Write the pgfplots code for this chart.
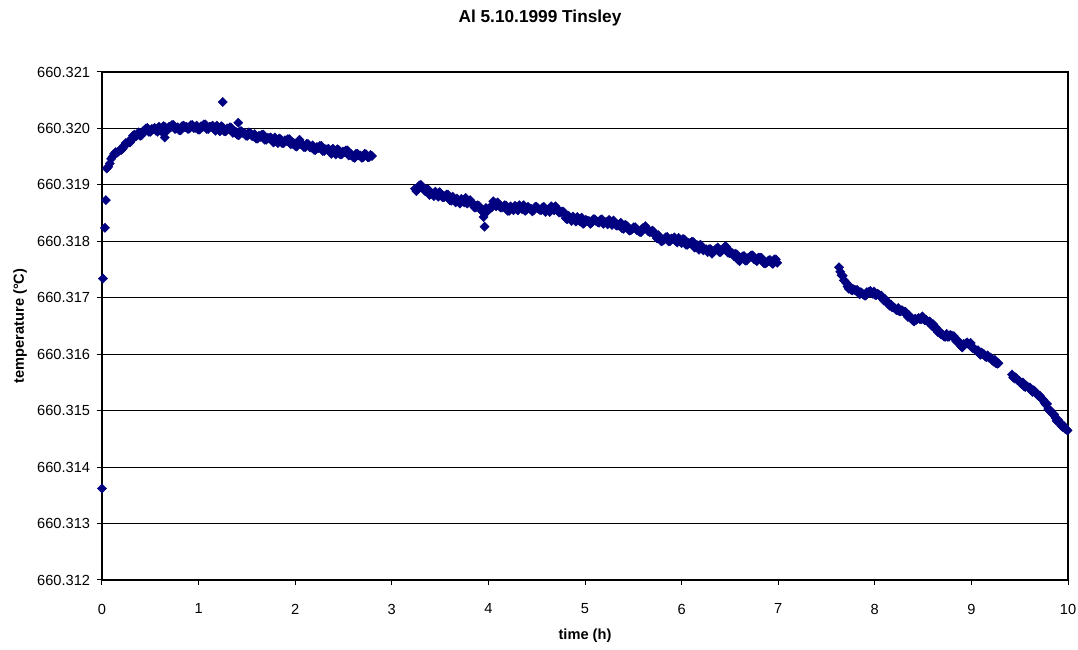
\documentclass[border=0pt]{standalone}
\usepackage{fontspec}
\setmainfont{Liberation Sans}
\usepackage{pgfplots}
\pgfplotsset{compat=1.18}
\usepackage{fp}
\definecolor{navy}{RGB}{0,0,128}
\begin{document}
\begin{tikzpicture}
\begin{axis}[
  scale only axis,
  width=724.5bp, height=381bp,
  xmin=0, xmax=10,
  ymin=660.312, ymax=660.321,
  y coord trafo/.code={\FPsub\tmpa{#1}{660.312}\FPmul\tmpa{\tmpa}{1000}\edef\pgfmathresult{\tmpa}},
  xtick={0,1,2,3,4,5,6,7,8,9,10},
  ytick={660.312,660.313,660.314,660.315,660.316,660.317,660.318,660.319,660.320,660.321},
  yticklabels={660.312,660.313,660.314,660.315,660.316,660.317,660.318,660.319,660.320,660.321},
  /pgf/number format/assume math mode=true,
  tick align=outside,
  major tick length=3.75bp,
  xtick pos=bottom, ytick pos=left,
  tick style={black, line width=0.75bp},
  axis line style={black, line width=0.9bp},
  ymajorgrids,
  major grid style={black, line width=0.6bp},
  ticklabel style={font=\fontsize{11}{13}\selectfont},
  yticklabel style={anchor=east, inner sep=0pt, xshift=-5bp},
  xticklabel style={anchor=north, inner sep=0pt, yshift=-14bp},
  title={Al 5.10.1999 Tinsley},
  title style={font=\fontsize{13}{15}\selectfont\bfseries, at={(axis description cs:0.4534,1.090)}, anchor=center},
  xlabel={time (h)},
  xlabel style={font=\fontsize{11}{13}\selectfont\bfseries, at={(axis description cs:0.5,-0.110)}, anchor=center},
  ylabel={temperature (°C)},
  ylabel style={font=\fontsize{11}{13}\selectfont\bfseries, at={(axis description cs:-0.0849,0.5)}, anchor=center, rotate=0},
]
\addplot[only marks, mark=square*, mark size=2.45bp, mark options={rotate=45, fill=navy, draw=navy, line width=0.3bp}] table {
x y
0.00 660.31362
0.01 660.31734
0.03 660.31824
0.04 660.31873
0.05 660.31929
0.08 660.31938
0.11 660.31950
0.14 660.31958
0.17 660.31959
0.20 660.31962
0.23 660.31970
0.26 660.31973
0.29 660.31975
0.32 660.31987
0.35 660.31986
0.38 660.31993
0.41 660.31988
0.44 660.31994
0.47 660.32001
0.50 660.31994
0.53 660.31999
0.56 660.31996
0.59 660.32003
0.62 660.31994
0.65 660.32003
0.65 660.31984
0.68 660.31997
0.71 660.32002
0.74 660.32006
0.77 660.32000
0.80 660.31997
0.83 660.32004
0.86 660.32002
0.89 660.31999
0.92 660.32006
0.95 660.32001
0.98 660.32005
1.01 660.31998
1.04 660.32002
1.07 660.32007
1.10 660.31999
1.13 660.32003
1.16 660.31999
1.19 660.32005
1.22 660.31995
1.25 660.32002
1.25 660.32047
1.28 660.31995
1.31 660.31999
1.34 660.32001
1.37 660.31993
1.40 660.31989
1.41 660.32010
1.43 660.31995
1.46 660.31992
1.49 660.31987
1.52 660.31993
1.55 660.31987
1.58 660.31990
1.61 660.31982
1.64 660.31985
1.67 660.31989
1.70 660.31980
1.73 660.31983
1.76 660.31979
1.79 660.31984
1.82 660.31974
1.85 660.31981
1.88 660.31974
1.91 660.31978
1.94 660.31981
1.97 660.31973
2.00 660.31969
2.03 660.31975
2.06 660.31972
2.09 660.31967
2.12 660.31973
2.15 660.31967
2.18 660.31970
2.21 660.31962
2.24 660.31965
2.27 660.31969
2.30 660.31960
2.33 660.31963
2.36 660.31959
2.39 660.31964
2.42 660.31954
2.45 660.31962
2.48 660.31954
2.51 660.31958
2.54 660.31961
2.57 660.31953
2.60 660.31949
2.63 660.31955
2.66 660.31952
2.69 660.31948
2.72 660.31955
2.75 660.31949
2.78 660.31953
0.065 660.31932
0.095 660.31946
0.125 660.31955
0.155 660.31957
0.185 660.31962
0.215 660.31964
0.245 660.31974
0.275 660.31977
0.305 660.31979
0.335 660.31989
0.365 660.31988
0.395 660.31987
0.425 660.31995
0.455 660.32000
0.485 660.31994
0.515 660.31999
0.545 660.32001
0.575 660.31994
0.605 660.31999
0.635 660.32004
0.665 660.31997
0.695 660.32003
0.725 660.32006
0.755 660.31999
0.785 660.32002
0.815 660.31997
0.845 660.32005
0.875 660.32003
0.905 660.32000
0.935 660.32006
0.965 660.32001
0.995 660.31998
1.025 660.32004
1.055 660.32007
1.085 660.31999
1.115 660.32003
1.145 660.32005
1.175 660.31996
1.205 660.32000
1.235 660.32004
1.265 660.31995
1.295 660.32000
1.325 660.32002
1.355 660.31992
1.385 660.31994
1.415 660.31988
1.445 660.31995
1.475 660.31992
1.505 660.31987
1.535 660.31992
1.565 660.31986
1.595 660.31982
1.625 660.31987
1.655 660.31989
1.685 660.31980
1.715 660.31983
1.745 660.31984
1.775 660.31975
1.805 660.31979
1.835 660.31982
1.865 660.31974
1.895 660.31979
1.925 660.31981
1.955 660.31972
1.985 660.31974
2.015 660.31968
2.045 660.31980
2.075 660.31972
2.105 660.31967
2.135 660.31972
2.165 660.31966
2.195 660.31962
2.225 660.31967
2.255 660.31969
2.285 660.31960
2.315 660.31963
2.345 660.31964
2.375 660.31955
2.405 660.31959
2.435 660.31963
2.465 660.31954
2.495 660.31959
2.525 660.31961
2.555 660.31952
2.585 660.31954
2.615 660.31948
2.645 660.31955
2.675 660.31952
2.705 660.31949
2.735 660.31954
2.765 660.31949
2.795 660.31951
3.24 660.31893
3.27 660.31892
3.30 660.31900
3.33 660.31892
3.36 660.31892
3.39 660.31882
3.42 660.31884
3.45 660.31888
3.48 660.31879
3.51 660.31882
3.54 660.31878
3.57 660.31883
3.60 660.31873
3.63 660.31879
3.66 660.31869
3.69 660.31872
3.72 660.31875
3.75 660.31869
3.78 660.31867
3.81 660.31873
3.84 660.31867
3.87 660.31860
3.90 660.31863
3.93 660.31854
3.95 660.31843
3.96 660.31856
3.96 660.31826
3.99 660.31853
4.02 660.31861
4.05 660.31871
4.08 660.31862
4.11 660.31864
4.14 660.31860
4.17 660.31864
4.20 660.31854
4.23 660.31862
4.26 660.31855
4.29 660.31860
4.32 660.31864
4.35 660.31857
4.38 660.31854
4.41 660.31861
4.44 660.31858
4.47 660.31855
4.50 660.31861
4.53 660.31856
4.56 660.31860
4.59 660.31852
4.62 660.31856
4.65 660.31862
4.68 660.31855
4.71 660.31858
4.74 660.31851
4.77 660.31853
4.80 660.31841
4.83 660.31845
4.86 660.31836
4.89 660.31840
4.92 660.31843
4.95 660.31835
4.98 660.31831
5.01 660.31838
5.04 660.31836
5.07 660.31833
5.10 660.31839
5.13 660.31834
5.16 660.31838
5.19 660.31831
5.22 660.31834
5.25 660.31838
5.28 660.31829
5.31 660.31832
5.34 660.31828
5.37 660.31833
5.40 660.31822
5.43 660.31828
5.46 660.31819
5.49 660.31822
5.52 660.31825
5.55 660.31819
5.58 660.31816
5.61 660.31823
5.64 660.31822
5.67 660.31816
5.70 660.31819
5.73 660.31810
5.76 660.31811
5.79 660.31800
5.82 660.31803
5.85 660.31808
5.88 660.31800
5.91 660.31804
5.94 660.31800
5.97 660.31806
6.00 660.31797
6.03 660.31803
6.06 660.31794
6.09 660.31797
6.12 660.31799
6.15 660.31790
6.18 660.31785
6.21 660.31790
6.24 660.31786
6.27 660.31781
6.30 660.31786
6.33 660.31782
6.36 660.31787
6.39 660.31781
6.42 660.31785
6.45 660.31791
6.48 660.31780
6.51 660.31781
6.54 660.31774
6.57 660.31777
6.60 660.31765
6.63 660.31773
6.66 660.31766
6.69 660.31771
6.72 660.31775
6.75 660.31768
6.78 660.31765
6.81 660.31771
6.84 660.31767
6.87 660.31761
6.90 660.31766
6.93 660.31762
6.96 660.31768
6.99 660.31762
3.255 660.31889
3.285 660.31899
3.315 660.31896
3.345 660.31889
3.375 660.31892
3.405 660.31884
3.435 660.31880
3.465 660.31885
3.495 660.31887
3.525 660.31878
3.555 660.31881
3.585 660.31882
3.615 660.31872
3.645 660.31875
3.675 660.31876
3.705 660.31867
3.735 660.31873
3.765 660.31877
3.795 660.31869
3.825 660.31869
3.855 660.31860
3.885 660.31864
3.915 660.31858
3.945 660.31852
3.975 660.31859
4.005 660.31858
4.035 660.31860
4.065 660.31868
4.095 660.31869
4.125 660.31860
4.155 660.31862
4.185 660.31863
4.215 660.31854
4.245 660.31859
4.275 660.31863
4.305 660.31855
4.335 660.31861
4.365 660.31864
4.395 660.31856
4.425 660.31858
4.455 660.31853
4.485 660.31861
4.515 660.31858
4.545 660.31855
4.575 660.31861
4.605 660.31855
4.635 660.31852
4.665 660.31860
4.695 660.31862
4.725 660.31852
4.755 660.31852
4.785 660.31851
4.815 660.31839
4.845 660.31841
4.875 660.31844
4.905 660.31835
4.935 660.31840
4.965 660.31842
4.995 660.31833
5.025 660.31836
5.055 660.31831
5.085 660.31839
5.115 660.31836
5.145 660.31833
5.175 660.31839
5.205 660.31834
5.235 660.31830
5.265 660.31835
5.295 660.31837
5.325 660.31828
5.355 660.31830
5.385 660.31823
5.415 660.31829
5.445 660.31825
5.475 660.31820
5.505 660.31825
5.535 660.31820
5.565 660.31817
5.595 660.31823
5.625 660.31827
5.655 660.31818
5.685 660.31818
5.715 660.31816
5.745 660.31805
5.775 660.31806
5.805 660.31801
5.835 660.31807
5.865 660.31800
5.895 660.31805
5.925 660.31807
5.955 660.31798
5.985 660.31803
6.015 660.31804
6.045 660.31794
6.075 660.31797
6.105 660.31799
6.135 660.31789
6.165 660.31793
6.195 660.31794
6.225 660.31784
6.255 660.31786
6.285 660.31786
6.315 660.31778
6.345 660.31784
6.375 660.31789
6.405 660.31781
6.435 660.31788
6.465 660.31790
6.495 660.31779
6.525 660.31779
6.555 660.31778
6.585 660.31767
6.615 660.31770
6.645 660.31774
6.675 660.31766
6.705 660.31772
6.735 660.31775
6.765 660.31767
6.795 660.31771
6.825 660.31771
6.855 660.31761
6.885 660.31763
6.915 660.31767
6.945 660.31760
6.975 660.31768
7.630 660.31754
7.655 660.31740
7.680 660.31731
7.705 660.31726
7.730 660.31716
7.755 660.31714
7.780 660.31715
7.805 660.31713
7.830 660.31709
7.855 660.31710
7.880 660.31706
7.905 660.31704
7.930 660.31709
7.955 660.31712
7.980 660.31707
8.005 660.31705
8.030 660.31707
8.055 660.31703
8.080 660.31699
8.105 660.31698
8.130 660.31693
8.155 660.31686
8.180 660.31683
8.205 660.31682
8.230 660.31678
8.255 660.31676
8.280 660.31678
8.305 660.31675
8.330 660.31670
8.355 660.31669
8.380 660.31664
8.405 660.31658
8.430 660.31661
8.455 660.31664
8.480 660.31662
8.505 660.31662
8.530 660.31661
8.555 660.31657
8.580 660.31653
8.605 660.31653
8.630 660.31647
8.655 660.31639
8.680 660.31636
8.705 660.31634
8.730 660.31631
8.755 660.31631
8.780 660.31634
8.805 660.31632
8.830 660.31627
8.855 660.31625
8.880 660.31619
8.905 660.31612
8.930 660.31617
8.955 660.31621
8.980 660.31618
9.005 660.31612
9.030 660.31610
9.055 660.31606
9.080 660.31602
9.105 660.31603
9.130 660.31600
9.155 660.31595
9.180 660.31594
9.205 660.31593
9.230 660.31587
9.255 660.31584
9.280 660.31584
7.6425 660.31746
7.6675 660.31739
7.6925 660.31729
7.7175 660.31720
7.7425 660.31720
7.7675 660.31713
7.7925 660.31714
7.8175 660.31714
7.8425 660.31706
7.8675 660.31708
7.8925 660.31704
7.9175 660.31710
7.9425 660.31711
7.9675 660.31708
7.9925 660.31711
8.0175 660.31705
8.0425 660.31705
8.0675 660.31704
8.0925 660.31695
8.1175 660.31695
8.1425 660.31688
8.1675 660.31688
8.1925 660.31683
8.2175 660.31679
8.2425 660.31682
8.2675 660.31676
8.2925 660.31676
8.3175 660.31675
8.3425 660.31666
8.3675 660.31666
8.3925 660.31660
8.4175 660.31663
8.4425 660.31663
8.4675 660.31662
8.4925 660.31667
8.5175 660.31660
8.5425 660.31659
8.5675 660.31658
8.5925 660.31650
8.6175 660.31650
8.6425 660.31642
8.6675 660.31641
8.6925 660.31635
8.7175 660.31631
8.7425 660.31636
8.7675 660.31631
8.7925 660.31633
8.8175 660.31632
8.8425 660.31623
8.8675 660.31622
8.8925 660.31614
8.9175 660.31618
8.9425 660.31619
8.9675 660.31618
8.9925 660.31620
9.0175 660.31610
9.0425 660.31608
9.0675 660.31607
9.0925 660.31599
9.1175 660.31601
9.1425 660.31596
9.1675 660.31598
9.1925 660.31594
9.2175 660.31589
9.2425 660.31590
9.2675 660.31583
9.420 660.31564
9.445 660.31557
9.470 660.31555
9.495 660.31553
9.520 660.31547
9.545 660.31543
9.570 660.31544
9.595 660.31541
9.620 660.31536
9.645 660.31536
9.670 660.31532
9.695 660.31526
9.720 660.31522
9.745 660.31519
9.770 660.31511
9.795 660.31503
9.820 660.31500
9.845 660.31493
9.870 660.31487
9.895 660.31484
9.920 660.31478
9.945 660.31471
9.970 660.31468
9.995 660.31465
9.4325 660.31559
9.4575 660.31559
9.4825 660.31554
9.5075 660.31549
9.5325 660.31550
9.5575 660.31542
9.5825 660.31542
9.6075 660.31541
9.6325 660.31533
9.6575 660.31534
9.6825 660.31528
9.7075 660.31527
9.7325 660.31521
9.7575 660.31514
9.7825 660.31512
9.8075 660.31500
9.8325 660.31496
9.8575 660.31493
9.8825 660.31482
9.9075 660.31481
9.9325 660.31473
9.9575 660.31473
9.9825 660.31467
};
\coordinate (sw) at (rel axis cs:0,0);
\coordinate (ne) at (rel axis cs:1,1);
\end{axis}
\pgfresetboundingbox
\path[use as bounding box] ([shift={(-76.5bp,-52.5bp)}]sw) rectangle ([shift={(7.5bp,54bp)}]ne);
\end{tikzpicture}
\end{document}
